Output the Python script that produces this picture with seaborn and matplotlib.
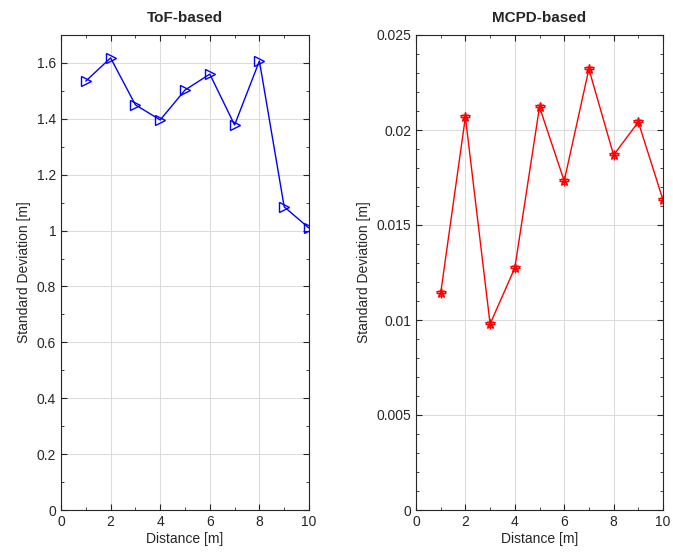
import matplotlib
matplotlib.use("Agg")
import matplotlib.pyplot as plt
import seaborn as sns
import pandas as pd
from matplotlib.ticker import MultipleLocator, FuncFormatter

distance = [1, 2, 3, 4, 5, 6, 7, 8, 9, 10]
tof_std = [1.535, 1.618, 1.450, 1.396, 1.503, 1.560, 1.378, 1.607, 1.085, 1.009]
mcpd_std = [0.01142, 0.02068, 0.00979, 0.01274, 0.02121, 0.01732, 0.02321, 0.01868, 0.02042, 0.01632]
titles = ["ToF-based", "MCPD-based"]

sns.set_theme(style="white")
plt.rcParams['font.family'] = ['Liberation Sans', 'DejaVu Sans']

fig = plt.figure(figsize=(6.73, 5.58), dpi=100)
ax1 = fig.add_axes([61/673, 48/558, 248/673, 475/558])
ax2 = fig.add_axes([416/673, 48/558, 247/673, 475/558])

df = pd.DataFrame({"d": distance, "tof": tof_std, "mcpd": mcpd_std})

sns.lineplot(data=df, x="d", y="tof", ax=ax1, color="blue", marker=">",
             markersize=7.5, markerfacecolor="none", markeredgecolor="blue",
             markeredgewidth=1.0, linewidth=1.0)
sns.lineplot(data=df, x="d", y="mcpd", ax=ax2, color="red", marker="*",
             markersize=7, markerfacecolor="none", markeredgecolor="red",
             markeredgewidth=0.8, linewidth=1.0)
# asterisk look: overlay plus and x
ax2.plot(df["d"], df["mcpd"], linestyle="none", marker="+", markersize=7, color="red", markeredgewidth=1.0)
ax2.plot(df["d"], df["mcpd"], linestyle="none", marker="x", markersize=5, color="red", markeredgewidth=1.0)

fmt = FuncFormatter(lambda v, p: f"{v:g}")
for ax, title in zip([ax1, ax2], titles):
    ax.set_xlim(0, 10)
    ax.xaxis.set_major_locator(MultipleLocator(2))
    ax.xaxis.set_minor_locator(MultipleLocator(1))
    ax.set_xlabel("Distance [m]", fontsize=10, color="#262626", labelpad=2)
    ax.set_ylabel("Standard Deviation [m]", fontsize=10, color="#262626", labelpad=4)
    ax.set_title(title, fontsize=11, fontweight="bold", pad=9)
    ax.grid(True, which="major", color="#dcdcdc", linewidth=0.8)
    ax.set_axisbelow(True)
    ax.tick_params(which="both", direction="in", top=True, right=True,
                   bottom=True, left=True, colors="#262626", labelsize=10)
    ax.tick_params(which="major", length=4, width=0.8)
    ax.tick_params(which="minor", length=2, width=0.6)
    for s in ax.spines.values():
        s.set_color("#262626")
        s.set_linewidth(0.8)

ax1.set_ylim(0, 1.7)
ax1.yaxis.set_major_locator(MultipleLocator(0.2))
ax1.yaxis.set_minor_locator(MultipleLocator(0.1))
ax1.yaxis.set_major_formatter(fmt)

ax2.set_ylim(0, 0.025)
ax2.yaxis.set_major_locator(MultipleLocator(0.005))
ax2.yaxis.set_minor_locator(MultipleLocator(0.001))
ax2.yaxis.set_major_formatter(fmt)

fig.savefig("out.png", dpi=100)
